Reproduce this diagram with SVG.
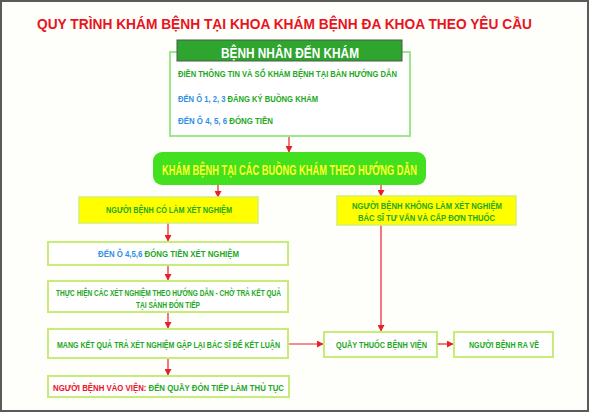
<svg xmlns="http://www.w3.org/2000/svg" width="590" height="413" viewBox="0 0 590 413">
<defs>
<style>
text{font-family:"Liberation Sans",Arial,sans-serif;font-weight:bold;}
.t{font-size:9px;fill:#22a822;}
.b{fill:#2f8fe3;}
.g{fill:#22a822;}
.r{fill:#e8141e;}
.box{fill:#ffffff;stroke:#c8ec78;stroke-width:2;}
.ybox{fill:#ffff00;stroke:#d6ee70;stroke-width:1.5;}
.con{stroke:#e8202a;stroke-width:1.2;fill:none;marker-end:url(#ah);}
</style>
<marker id="ah" markerUnits="userSpaceOnUse" markerWidth="7" markerHeight="7" refX="6" refY="3.5" orient="auto">
<path d="M0,0 L6.5,3.5 L0,7 z" fill="#e8202a"/>
</marker>
</defs>
<rect x="0" y="0" width="590" height="413" fill="#fefefb"/>
<rect x="1" y="1" width="587" height="410" fill="none" stroke="#5a5a5a" stroke-width="2"/>
<text x="37" y="29" font-size="15" fill="#e8141e" textLength="495" lengthAdjust="spacingAndGlyphs">QUY TRÌNH KHÁM BỆNH TẠI KHOA KHÁM BỆNH ĐA KHOA THEO YÊU CẦU</text>

<g id="connectors">
<line class="con" x1="256" y1="80" x2="256" y2="90"/>
<line class="con" x1="256" y1="104" x2="256" y2="114"/>
<line class="con" x1="289" y1="136" x2="289" y2="152"/>
<line class="con" x1="218" y1="185" x2="218" y2="197"/>
<line class="con" x1="381" y1="185" x2="381" y2="196"/>
<line class="con" x1="168" y1="223" x2="168" y2="241"/>
<line class="con" x1="381" y1="225" x2="381" y2="331"/>
<line class="con" x1="168" y1="265" x2="168" y2="280"/>
<line class="con" x1="168" y1="312" x2="168" y2="328"/>
<line class="con" x1="168" y1="358" x2="168" y2="375"/>
<line class="con" x1="288" y1="344" x2="323" y2="344"/>
<line class="con" x1="437" y1="344" x2="453" y2="344"/>
</g>

<g id="node-benh-nhan">
<rect x="170" y="52" width="240" height="84" fill="#ffffff" stroke="#9ae88a" stroke-width="2"/>
<rect x="177" y="40" width="225" height="21" fill="#2ea52e" stroke="#4a5a4a" stroke-width="1"/>
<text x="221" y="58" font-size="15" fill="#ffffff" textLength="138" lengthAdjust="spacingAndGlyphs">BỆNH NHÂN ĐẾN KHÁM</text>
<text class="t" x="178" y="77" textLength="219" lengthAdjust="spacingAndGlyphs">ĐIỀN THÔNG TIN VÀ SỔ KHÁM BỆNH TẠI BÀN HƯỚNG DẪN</text>
<text class="t" x="178" y="102" textLength="140" lengthAdjust="spacingAndGlyphs"><tspan class="b">ĐẾN Ô 1, 2, 3</tspan> ĐĂNG KÝ BUỒNG KHÁM</text>
<text class="t" x="178" y="124" textLength="95" lengthAdjust="spacingAndGlyphs"><tspan class="b">ĐẾN Ô 4, 5, 6</tspan> ĐÓNG TIỀN</text>
</g>

<g id="node-kham-benh">
<rect x="153" y="152" width="273" height="33" rx="9" ry="9" fill="#42e01e"/>
<text x="162" y="175" font-size="15" fill="#ffff2a" textLength="255" lengthAdjust="spacingAndGlyphs">KHÁM BỆNH TẠI CÁC BUỒNG KHÁM THEO HƯỚNG DẪN</text>
</g>

<g id="node-co-xet-nghiem">
<rect class="ybox" x="79" y="197" width="179" height="26"/>
<text class="t" x="106" y="213" textLength="126" lengthAdjust="spacingAndGlyphs">NGƯỜI BỆNH CÓ LÀM XÉT NGHIỆM</text>
</g>

<g id="node-khong-xet-nghiem">
<rect class="ybox" x="337" y="196" width="179" height="29"/>
<text class="t" x="352" y="209" textLength="150" lengthAdjust="spacingAndGlyphs">NGƯỜI BỆNH KHÔNG LÀM XÉT NGHIỆM</text>
<text class="t" x="358" y="221" textLength="137" lengthAdjust="spacingAndGlyphs">BÁC SĨ TƯ VẤN VÀ CẤP ĐƠN THUỐC</text>
</g>

<g id="node-dong-tien-xn">
<rect class="box" x="48" y="242" width="240" height="23"/>
<text class="t" x="98" y="257" textLength="141" lengthAdjust="spacingAndGlyphs"><tspan class="b">ĐẾN Ô 4,5,6</tspan> ĐÓNG TIỀN XÉT NGHIỆM</text>
</g>

<g id="node-thuc-hien-xn">
<rect class="box" x="48" y="281" width="240" height="31"/>
<text class="t" x="56" y="296" textLength="225" lengthAdjust="spacingAndGlyphs">THỰC HIỆN CÁC XÉT NGHIỆM THEO HƯỚNG DẪN  - CHỜ TRẢ KẾT QUẢ</text>
<text class="t" x="136" y="308" textLength="64" lengthAdjust="spacingAndGlyphs">TẠI SẢNH ĐÓN TIẾP</text>
</g>

<g id="node-mang-ket-qua">
<rect class="box" x="48" y="329" width="240" height="29"/>
<text class="t" x="57" y="348" textLength="223" lengthAdjust="spacingAndGlyphs">MANG KẾT QUẢ TRẢ XÉT NGHIỆM GẶP LẠI BÁC SĨ ĐỂ KẾT LUẬN</text>
</g>

<g id="node-vao-vien">
<rect class="box" x="48" y="376" width="241" height="21"/>
<text class="t" x="53" y="391" textLength="231" lengthAdjust="spacingAndGlyphs"><tspan class="r">NGƯỜI BỆNH VÀO VIỆN:</tspan> ĐẾN QUẦY ĐÓN TIẾP LÀM THỦ TỤC</text>
</g>

<g id="node-quay-thuoc">
<rect class="box" x="324" y="332" width="113" height="25"/>
<text class="t" x="336" y="348" textLength="91" lengthAdjust="spacingAndGlyphs">QUẦY THUỐC BỆNH VIỆN</text>
</g>

<g id="node-ra-ve">
<rect class="box" x="454" y="332" width="99" height="25"/>
<text class="t" x="469" y="348" textLength="70" lengthAdjust="spacingAndGlyphs">NGƯỜI BỆNH RA VỀ</text>
</g>
</svg>
